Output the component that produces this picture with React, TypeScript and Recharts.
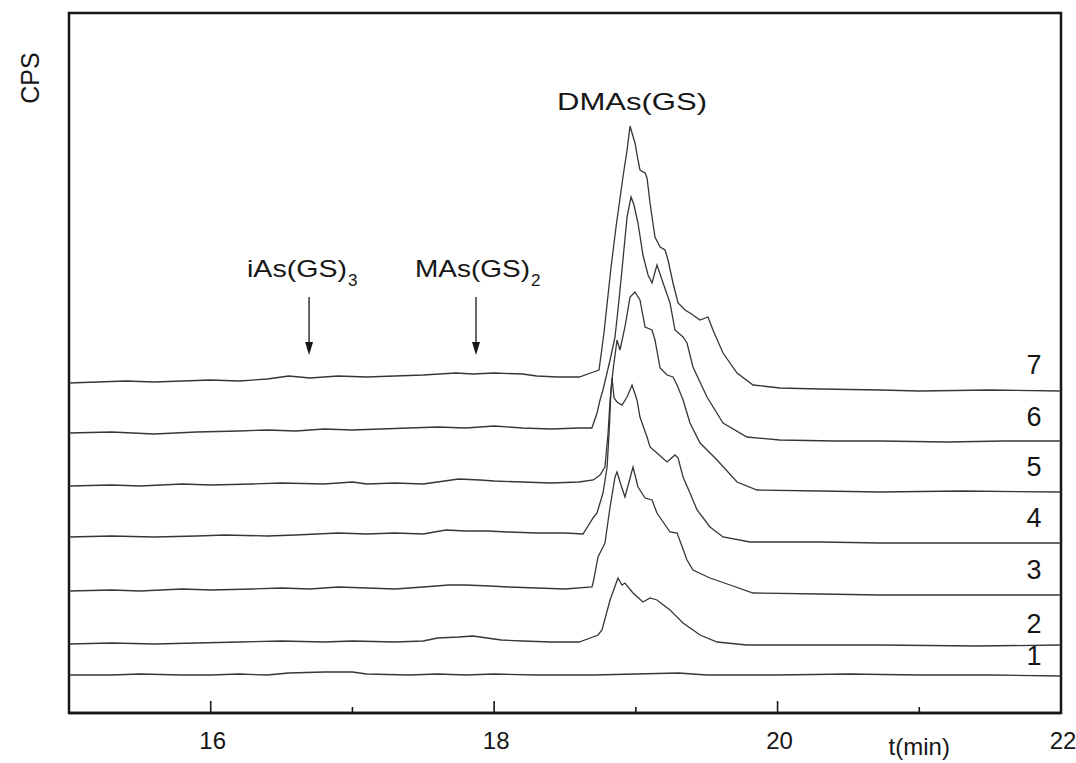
import React from 'react';
import { LineChart, Line, XAxis, YAxis, ReferenceArea, ReferenceDot, ReferenceLine } from 'recharts';

const FONT = '"Liberation Sans", Arial, Helvetica, sans-serif';
const INK = '#161616';
const LINE = '#363636';

// Chromatogram traces: [time (min), intensity (arbitrary CPS units, stacked offsets)]
const trace1: number[][] = [
  [15.0, 38], [15.3, 38], [15.5, 39], [15.8, 38], [16.0, 38], [16.2, 39], [16.4, 38], [16.55, 40], [16.8, 41],
  [17.0, 41], [17.1, 39], [17.4, 38], [17.6, 39], [17.8, 38], [18.0, 39], [18.3, 38], [18.7, 38], [19.0, 39],
  [19.3, 40], [19.5, 38], [20.0, 38], [20.5, 39], [21.0, 38], [21.5, 38], [22.0, 37],
];
const trace2: number[][] = [
  [15.0, 69], [15.3, 70], [15.6, 69], [15.9, 70], [16.2, 71], [16.5, 72], [16.8, 71], [17.0, 72],
  [17.3, 71], [17.5, 72], [17.6, 75], [17.75, 76], [17.85, 77], [17.95, 75], [18.05, 73], [18.2, 72],
  [18.4, 71], [18.6, 71], [18.677, 75], [18.733, 78], [18.761, 83], [18.818, 113], [18.874, 135],
  [18.902, 128], [18.923, 130], [18.98, 120], [19.05, 111], [19.1, 115], [19.149, 113], [19.241, 103],
  [19.333, 90], [19.453, 78], [19.573, 71], [19.784, 68], [20.3, 68], [20.723, 68], [21.4, 67], [22.0, 68],
];
const trace3: number[][] = [
  [15.0, 122], [15.3, 123], [15.5, 122], [15.8, 124], [16.0, 123], [16.3, 124], [16.5, 125], [16.7, 124],
  [16.9, 126], [17.1, 125], [17.3, 124], [17.5, 126], [17.68, 128], [17.8, 128], [17.97, 127], [18.1, 126],
  [18.3, 125], [18.5, 124], [18.69, 126], [18.698, 130], [18.733, 156], [18.768, 166], [18.782, 170],
  [18.818, 206], [18.853, 236], [18.867, 241], [18.895, 228], [18.923, 216], [18.98, 246], [19.015, 226],
  [19.065, 215], [19.114, 213], [19.149, 200], [19.241, 181], [19.291, 180], [19.361, 153], [19.403, 143],
  [19.523, 135], [19.665, 128], [19.827, 120], [20.3, 119], [20.723, 118], [21.3, 118], [22.0, 118],
];
const trace4: number[][] = [
  [15.0, 176], [15.3, 177], [15.6, 176], [15.9, 177], [16.1, 178], [16.4, 177], [16.6, 178], [16.9, 180],
  [17.1, 179], [17.3, 180], [17.5, 179], [17.66, 183], [17.8, 182], [17.95, 182], [18.1, 181], [18.3, 180],
  [18.5, 180], [18.627, 179], [18.698, 195], [18.726, 200], [18.768, 220], [18.797, 246], [18.811, 280],
  [18.825, 323], [18.832, 335], [18.846, 315], [18.867, 311], [18.902, 308], [18.938, 316], [18.973, 328],
  [19.008, 313], [19.029, 296], [19.079, 276], [19.1, 266], [19.149, 260], [19.22, 251], [19.276, 258],
  [19.298, 255], [19.333, 236], [19.382, 220], [19.432, 203], [19.523, 186], [19.615, 176], [19.806, 171],
  [20.3, 171], [20.723, 170], [21.4, 170], [22.0, 170],
];
const trace5: number[][] = [
  [15.0, 227], [15.3, 228], [15.5, 227], [15.8, 229], [16.0, 228], [16.3, 229], [16.5, 230], [16.8, 229],
  [17.0, 231], [17.1, 229], [17.3, 230], [17.5, 229], [17.6, 231], [17.75, 234], [17.9, 233], [18.0, 232],
  [18.2, 231], [18.4, 230], [18.6, 231], [18.7, 233], [18.747, 238], [18.782, 246], [18.804, 280],
  [18.818, 313], [18.839, 343], [18.867, 373], [18.888, 363], [18.923, 386], [18.959, 416], [18.994, 421],
  [19.029, 413], [19.065, 386], [19.114, 383], [19.135, 373], [19.171, 345], [19.22, 338], [19.262, 336],
  [19.291, 328], [19.333, 313], [19.382, 290], [19.453, 270], [19.573, 253], [19.714, 231], [19.855, 223],
  [20.3, 222], [20.723, 221], [21.3, 222], [22.0, 221],
];
const trace6: number[][] = [
  [15.0, 280], [15.3, 281], [15.6, 279], [15.9, 281], [16.2, 282], [16.4, 283], [16.6, 282], [16.8, 284],
  [17.0, 283], [17.2, 284], [17.4, 285], [17.6, 286], [17.8, 285], [18.0, 287], [18.2, 285], [18.4, 284],
  [18.6, 285], [18.69, 285], [18.726, 300], [18.747, 313], [18.768, 323], [18.818, 353], [18.853, 376],
  [18.881, 413], [18.902, 443], [18.938, 496], [18.966, 516], [18.987, 508], [19.015, 490], [19.05, 458],
  [19.086, 438], [19.114, 430], [19.149, 448], [19.185, 433], [19.241, 410], [19.276, 383], [19.333, 376],
  [19.361, 370], [19.403, 346], [19.502, 316], [19.615, 290], [19.784, 276], [20.017, 273], [20.4, 272],
  [20.723, 272], [21.2, 271], [21.6, 272], [22.0, 272],
];
const trace7: number[][] = [
  [15.0, 330], [15.2, 331], [15.4, 332], [15.6, 331], [15.8, 332], [16.0, 333], [16.2, 332], [16.4, 334],
  [16.55, 337], [16.7, 335], [16.9, 337], [17.1, 336], [17.3, 337], [17.5, 338], [17.73, 340], [17.85, 339],
  [18.0, 340], [18.2, 339], [18.3, 337], [18.45, 336], [18.6, 336], [18.7, 341], [18.74, 343],
  [18.775, 380], [18.825, 446], [18.86, 486], [18.909, 536], [18.938, 563], [18.959, 587],
  [18.973, 580], [18.994, 570], [19.015, 553], [19.029, 543], [19.065, 540], [19.079, 535], [19.1, 510],
  [19.135, 476], [19.171, 466], [19.206, 463], [19.227, 453], [19.262, 430], [19.298, 410], [19.347, 403],
  [19.382, 400], [19.453, 393], [19.509, 396], [19.544, 383], [19.615, 360], [19.714, 340], [19.827, 328],
  [20.017, 325], [20.3, 324], [20.723, 323], [21.0, 322], [21.5, 323], [22.0, 322],
];

const traces = [trace1, trace2, trace3, trace4, trace5, trace6, trace7];
const traceNames = ['1', '2', '3', '4', '5', '6', '7'];
// text level of each trace number, drawn at the right end
const traceLabelLevels = [48, 80, 134, 186, 237, 287, 339];
const traceLabelTime = 21.81;

const xTicks = [16, 17, 18, 19, 20, 21, 22];
const labelledTicks = [16, 18, 20, 22];
const xTitle = 't(min)';
const xTitleAt = 21;
const yTitle = 'CPS';
const yTitleAt = { t: 14.725, v: 635 };

// peak annotations
const peakNames = ['DMAs(GS)', 'iAs(GS)', 'MAs(GS)'];
const peakSubs = ['', '3', '2'];
const peakTextTimes = [18.973, 16.256, 17.442];
const peakTextLevels = [603, 436, 436];
const arrowTimes = [16.694, 17.872];
const arrowTop = 416;
const arrowTip = 358;

const toPts = (a: number[][]) => a.map(([t, v]) => ({ t, v }));

function AxisTick(props: any) {
  const { x, y, payload } = props;
  const val = payload.value;
  const major = labelledTicks.includes(val);
  return (
    <g>
      <line x1={x} x2={x} y1={y} y2={y - (major ? 12 : 6)} stroke={INK} strokeWidth={1.6} />
      {major && (
        <text x={x + 2} y={y + 36} textAnchor="middle" fontFamily={FONT} fontSize={24} fill={INK}>
          {val}
        </text>
      )}
      {val === xTitleAt && (
        <text x={x} y={y + 42} textAnchor="middle" fontFamily={FONT} fontSize={24} fill={INK}>
          {xTitle}
        </text>
      )}
    </g>
  );
}

const yTitleShape = (p: any) => (
  <text
    x={p.cx}
    y={p.cy}
    transform={`rotate(-90 ${p.cx} ${p.cy})`}
    textAnchor="middle"
    dominantBaseline="central"
    fontFamily={FONT}
    fontSize={25}
    fill={INK}
  >
    {yTitle}
  </text>
);

const peakWidths = [150, 100, 115];

function makePeakLabel(i: number) {
  return (p: any) => {
    const anchor = i === 0 ? 'middle' : 'start';
    return (
      <g>
        <text x={p.cx} y={p.cy} textAnchor={anchor} fontFamily={FONT} fontSize={24} fill={INK}
          textLength={peakWidths[i]} lengthAdjust="spacingAndGlyphs">
          {peakNames[i]}
        </text>
        {peakSubs[i] && (
          <text x={p.cx + peakWidths[i] + 1} y={p.cy + 9} fontFamily={FONT} fontSize={17} fill={INK}>
            {peakSubs[i]}
          </text>
        )}
      </g>
    );
  };
}

const arrowHead = (p: any) => (
  <polygon points={`${p.cx - 4},${p.cy - 13} ${p.cx + 4},${p.cy - 13} ${p.cx},${p.cy}`} fill={INK} />
);

function makeTraceLabel(i: number) {
  return (p: any) => (
    <text x={p.cx} y={p.cy} textAnchor="middle" fontFamily={FONT} fontSize={27} fill={INK}>
      {traceNames[i]}
    </text>
  );
}

export default function App() {
  return (
    <div style={{ position: 'absolute', left: 0, top: 0, background: '#fff' }}>
      <LineChart width={1076} height={763} margin={{ top: 13, right: 15, bottom: 20, left: 69 }}>
        <XAxis
          type="number"
          dataKey="t"
          domain={[15, 22]}
          ticks={xTicks}
          height={30}
          tick={<AxisTick />}
          tickLine={false}
          tickSize={0}
          tickMargin={0}
          axisLine={{ stroke: INK, strokeWidth: 2.5 }}
          allowDataOverflow
          interval={0}
        />
        <YAxis
          type="number"
          domain={[0, 700]}
          width={0}
          tick={false}
          tickLine={false}
          axisLine={false}
          allowDataOverflow
        />
        <ReferenceArea x1={15} x2={22} y1={0} y2={700} fill="none" fillOpacity={0} stroke={INK} strokeWidth={2.5} />
        {traces.map((tr, i) => (
          <Line
            key={traceNames[i]}
            data={toPts(tr)}
            dataKey="v"
            type="linear"
            stroke={LINE}
            strokeWidth={1.3}
            dot={false}
            activeDot={false}
            isAnimationActive={false}
          />
        ))}
        {arrowTimes.map((t, i) => (
          <ReferenceLine key={'a' + i} segment={[{ x: t, y: arrowTop }, { x: t, y: arrowTip + 10 }]} stroke={INK} strokeWidth={1.3} />
        ))}
        {arrowTimes.map((t, i) => (
          <ReferenceDot key={'h' + i} x={t} y={arrowTip} r={1} shape={arrowHead} />
        ))}
        {peakNames.map((n, i) => (
          <ReferenceDot key={n} x={peakTextTimes[i]} y={peakTextLevels[i]} r={1} shape={makePeakLabel(i)} />
        ))}
        {traceNames.map((n, i) => (
          <ReferenceDot key={'l' + n} x={traceLabelTime} y={traceLabelLevels[i]} r={1} shape={makeTraceLabel(i)} />
        ))}
        <ReferenceDot x={yTitleAt.t} y={yTitleAt.v} r={1} ifOverflow="visible" shape={yTitleShape} />
      </LineChart>
    </div>
  );
}
